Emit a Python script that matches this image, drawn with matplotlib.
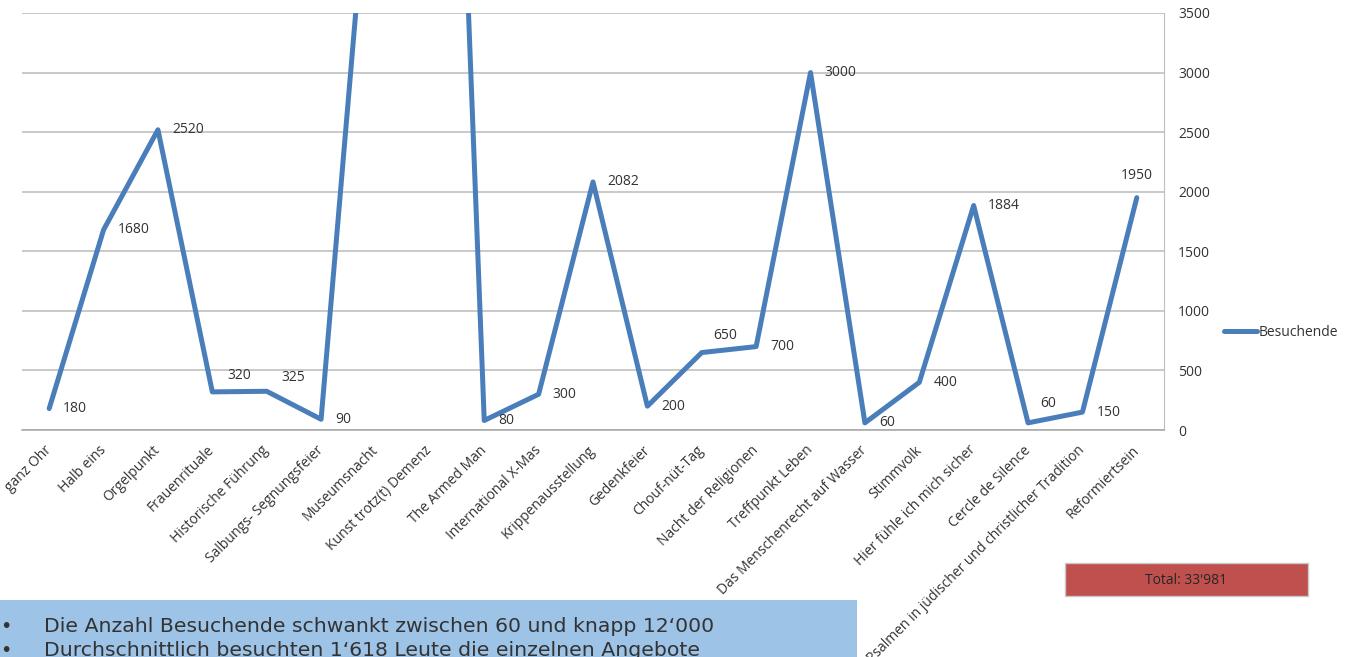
import matplotlib
matplotlib.use("Agg")
import matplotlib.pyplot as plt
from matplotlib.patches import Rectangle

# data
categories = [
    "ganz Ohr", "Halb eins", "Orgelpunkt", "Frauenrituale", "Historische Führung",
    "Salbungs- Segnungsfeier", "Museumsnacht", "Kunst trotz(t) Demenz", "The Armed Man",
    "International X-Mas", "Krippenausstellung", "Gedenkfeier", "Chouf-nüt-Tag",
    "Nacht der Religionen", "Treffpunkt Leben", "Das Menschenrecht auf Wasser",
    "Stimmvolk", "Hier fühle ich mich sicher", "Cercle de Silence",
    "Psalmen in jüdischer und christlicher Tradition", "Reformiertsein",
]
besuchende = [180, 1680, 2520, 320, 325, 90, 5450, 11900, 80, 300, 2082, 200,
              650, 700, 3000, 60, 400, 1884, 60, 150, 1950]
# labels that are shown (the two off-chart values have none)
show_label = [True] * 6 + [False, False] + [True] * 13
y_ticks = [0, 500, 1000, 1500, 2000, 2500, 3000, 3500]
total_text = "Total: 33'981"
bullets = [
    "Die Anzahl Besuchende schwankt zwischen 60 und knapp 12‘000",
    "Durchschnittlich besuchten 1‘618 Leute die einzelnen Angebote",
]

# label offsets in pixels (dx, dy, ha) - default right of point
label_pos = {3: (15, 16, "left"), 4: (15, 14, "left"), 12: (11, 17, "left"),
             18: (12, 19, "left"), 20: (0, 22, "center")}

W, H = 1348, 657
fig = plt.figure(figsize=(W / 100, H / 100), dpi=100)
plt.rcParams["font.family"] = ["Open Sans", "DejaVu Sans"]
txt_col = "#333333"

ax = fig.add_axes([22 / W, 1 - 430 / H, (1164 - 22) / W, (430 - 13) / H])
x = list(range(len(categories)))
ax.plot(x, besuchende, color="#4A7EBB", lw=3.6, solid_joinstyle="round",
        solid_capstyle="round", label="Besuchende", zorder=3)
ax.set_xlim(-0.5, len(categories) - 0.5)
ax.set_ylim(0, 3500)

ax.yaxis.tick_right()
ax.set_yticks(y_ticks)
ax.set_yticklabels([str(t) for t in y_ticks], fontsize=10, color=txt_col)
ax.tick_params(axis="y", length=0, pad=10)
ax.grid(axis="y", color="#BBBBBB", lw=1.1)
ax.set_axisbelow(True)

ax.set_xticks(x)
ax.set_xticklabels(categories, rotation=45, ha="right", va="center",
                   rotation_mode="anchor", fontsize=10, color=txt_col)
ax.tick_params(axis="x", length=0, pad=13)

for s in ["top", "left"]:
    ax.spines[s].set_visible(False)
ax.spines["right"].set_color("#BFBFBF")
ax.spines["bottom"].set_color("#A6A6A6")
ax.spines["bottom"].set_linewidth(1.1)

for i, v in enumerate(besuchende):
    if not show_label[i]:
        continue
    dx, dy, ha = label_pos.get(i, (14, 0, "left"))
    ax.annotate(str(v), (i, v), xytext=(dx * 0.72, dy * 0.72), textcoords="offset points",
                ha=ha, va="center", fontsize=10, color=txt_col)

fig.legend(loc="center left", bbox_to_anchor=(1224 / W, 1 - 332 / H), frameon=False,
           fontsize=10, handlelength=2.4, handletextpad=0.1, borderpad=0,
           borderaxespad=0, labelcolor=txt_col)

# total box
fig.patches.append(Rectangle((1065 / W, 1 - 596 / H), 243 / W, 33 / H,
                             transform=fig.transFigure, facecolor="#C0504D",
                             edgecolor="#C8C8C8", lw=1))
fig.text(1186 / W, 1 - 580 / H, total_text, ha="center", va="center",
         fontsize=10, color="#262626")

# bullet box
fig.patches.append(Rectangle((0, 0), 857 / W, 57 / H, transform=fig.transFigure,
                             facecolor="#9DC3E6", edgecolor="none"))
for k, line in enumerate(bullets):
    yy = 1 - (627 + 23 * k) / H
    fig.text(6 / W, yy, "•", ha="center", va="center", fontsize=14, color=txt_col,
             family="DejaVu Sans")
    fig.text(44 / W, yy, line, ha="left", va="center", fontsize=14.7, color=txt_col,
             family="DejaVu Sans")

fig.savefig("out.png", dpi=100)
